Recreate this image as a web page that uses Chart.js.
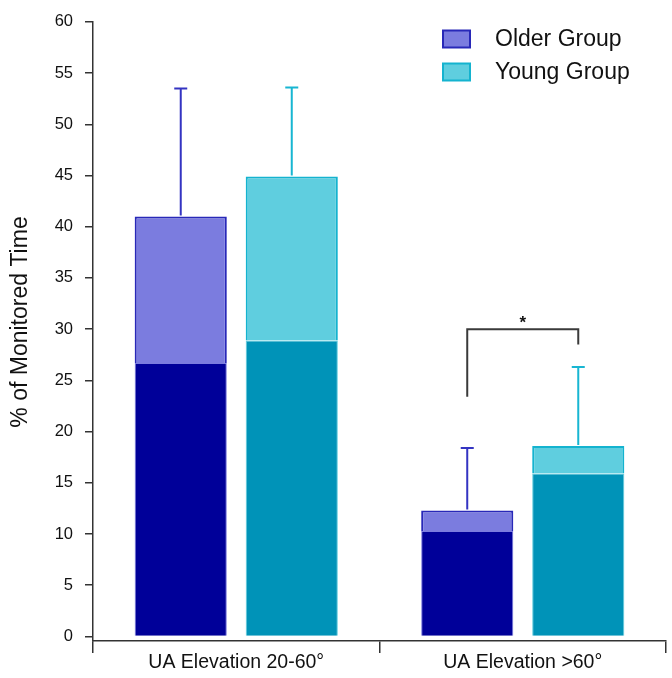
<!DOCTYPE html>
<html>
<head>
<meta charset="utf-8">
<script src="https://cdn.jsdelivr.net/npm/chart.js@4/dist/chart.umd.min.js"></script>
<style>
  html, body { margin: 0; padding: 0; background: #ffffff; }
  #wrap { width: 672px; height: 678px; }
</style>
</head>
<body>
<div id="wrap"><canvas id="c" width="672" height="678"></canvas></div>
<script>
// ---- Data ----
const categories = ['UA Elevation 20-60°', 'UA Elevation >60°'];
const seriesNames = ['Older Group', 'Young Group'];
const olderTotal = [41.0, 12.3];
const olderDark  = [26.7, 10.3];
const olderSD    = [12.5, 6.1];
const youngTotal = [44.9, 18.6];
const youngDark  = [28.9, 15.9];
const youngSD    = [8.7, 7.7];
const yTicks = [0, 5, 10, 15, 20, 25, 30, 35, 40, 45, 50, 55, 60];
const yTitle = '% of Monitored Time';
// significance bracket on category 2: [bar level, left leg end, right leg end]
const sigCategory = 1;
const sigLevels = [30.0, 23.4, 28.5];
const sigLabel = '*';

// ---- Styles ----
const FONT = "'Liberation Sans', Arial, Helvetica, sans-serif";
const C = {
  olderDark: '#000099', olderLight: '#7b7cdf', olderBorder: '#2828b8', olderErr: '#3434c2',
  youngDark: '#0093b8', youngLight: '#5fcedf', youngBorder: '#14b3cf', youngErr: '#18b6d2',
  axis: '#333333', text: '#111111'
};

const olderLight = olderTotal.map((t, i) => t - olderDark[i]);
const youngLight = youngTotal.map((t, i) => t - youngDark[i]);

const errorBars = {
  id: 'errorBars',
  afterDatasetsDraw(chart) {
    const ctx = chart.ctx, y = chart.scales.y;
    const groups = [
      { ds: 1, total: olderTotal, sd: olderSD, color: C.olderErr },
      { ds: 3, total: youngTotal, sd: youngSD, color: C.youngErr }
    ];
    ctx.save();
    groups.forEach(g => {
      const meta = chart.getDatasetMeta(g.ds);
      meta.data.forEach((el, i) => {
        const x = el.x;
        const y0 = y.getPixelForValue(g.total[i]);
        const y1 = y.getPixelForValue(g.total[i] + g.sd[i]);
        ctx.strokeStyle = g.color;
        ctx.lineWidth = 2;
        ctx.beginPath();
        ctx.moveTo(x, y0 - 1); ctx.lineTo(x, y1);
        ctx.moveTo(x - 6.5, y1); ctx.lineTo(x + 6.5, y1);
        ctx.stroke();
      });
    });
    // significance bracket
    const xl = chart.getDatasetMeta(1).data[sigCategory].x;
    const xr = chart.getDatasetMeta(3).data[sigCategory].x;
    const yTop = y.getPixelForValue(sigLevels[0]);
    const yL = y.getPixelForValue(sigLevels[1]);
    const yR = y.getPixelForValue(sigLevels[2]);
    ctx.strokeStyle = '#3a3a3a';
    ctx.lineWidth = 2;
    ctx.beginPath();
    ctx.moveTo(xl, yL); ctx.lineTo(xl, yTop); ctx.lineTo(xr, yTop); ctx.lineTo(xr, yR);
    ctx.stroke();
    ctx.fillStyle = C.text;
    ctx.font = 'bold 17px ' + FONT;
    ctx.textAlign = 'center';
    ctx.textBaseline = 'alphabetic';
    ctx.fillText(sigLabel, (xl + xr) / 2, yTop - 1);
    ctx.restore();
  }
};

const legendAndTitle = {
  id: 'legendAndTitle',
  afterDraw(chart) {
    const ctx = chart.ctx;
    const items = [
      { label: seriesNames[0], fill: C.olderLight, border: C.olderBorder },
      { label: seriesNames[1], fill: C.youngLight, border: C.youngBorder }
    ];
    ctx.save();
    items.forEach((it, i) => {
      const cy = 39 + i * 33;
      ctx.fillStyle = it.fill;
      ctx.fillRect(443, cy - 8.5, 27, 17);
      ctx.strokeStyle = it.border;
      ctx.lineWidth = 2;
      ctx.strokeRect(443, cy - 8.5, 27, 17);
      ctx.fillStyle = C.text;
      ctx.font = '23px ' + FONT;
      ctx.textAlign = 'left';
      ctx.textBaseline = 'middle';
      ctx.fillText(it.label, 495, cy + 1);
    });
    // y-axis title
    ctx.translate(21, 322);
    ctx.rotate(-Math.PI / 2);
    ctx.font = '23px ' + FONT;
    ctx.textAlign = 'center';
    ctx.textBaseline = 'middle';
    ctx.fillStyle = C.text;
    ctx.fillText(yTitle, 0, 0);
    ctx.restore();
  }
};

new Chart(document.getElementById('c'), {
  type: 'bar',
  data: {
    labels: categories,
    datasets: [
      { label: seriesNames[0] + ' dark', data: olderDark, stack: 'older',
        backgroundColor: C.olderDark, borderColor: C.olderLight, borderWidth: 1, borderSkipped: 'start' },
      { label: seriesNames[0], data: olderLight, stack: 'older',
        backgroundColor: C.olderLight, borderColor: C.olderBorder, borderWidth: 2, borderSkipped: 'start' },
      { label: seriesNames[1] + ' dark', data: youngDark, stack: 'young',
        backgroundColor: C.youngDark, borderColor: C.youngLight, borderWidth: 1, borderSkipped: 'start' },
      { label: seriesNames[1], data: youngLight, stack: 'young',
        backgroundColor: C.youngLight, borderColor: C.youngBorder, borderWidth: 2, borderSkipped: 'start' }
    ]
  },
  options: {
    responsive: false,
    animation: false,
    devicePixelRatio: 1,
    categoryPercentage: 0.775,
    barPercentage: 0.83,
    layout: { padding: { top: 18, right: 6, left: 0, bottom: 0 } },
    plugins: { legend: { display: false }, tooltip: { enabled: false } },
    scales: {
      x: {
        stacked: true,
        afterFit(s) { s.height = 37; },
        grid: { display: true, offset: true, drawOnChartArea: false, drawTicks: true, tickLength: 12, color: C.axis, lineWidth: 1.5 },
        border: { display: true, color: C.axis, width: 1.5 },
        ticks: { color: C.text, font: { family: FONT, size: 19.5 }, padding: -2, maxRotation: 0 }
      },
      y: {
        stacked: true,
        min: -0.45,
        max: 60,
        afterFit(s) { s.width = 93; },
        afterBuildTicks(s) { s.ticks = yTicks.map(v => ({ value: v })); },
        grid: { display: true, drawOnChartArea: false, drawTicks: true, tickLength: 8, color: C.axis, lineWidth: 1.5 },
        border: { display: true, color: C.axis, width: 1.5 },
        ticks: { color: C.text, font: { family: FONT, size: 16.5 }, padding: 12 }
      }
    }
  },
  plugins: [errorBars, legendAndTitle]
});
</script>
</body>
</html>
